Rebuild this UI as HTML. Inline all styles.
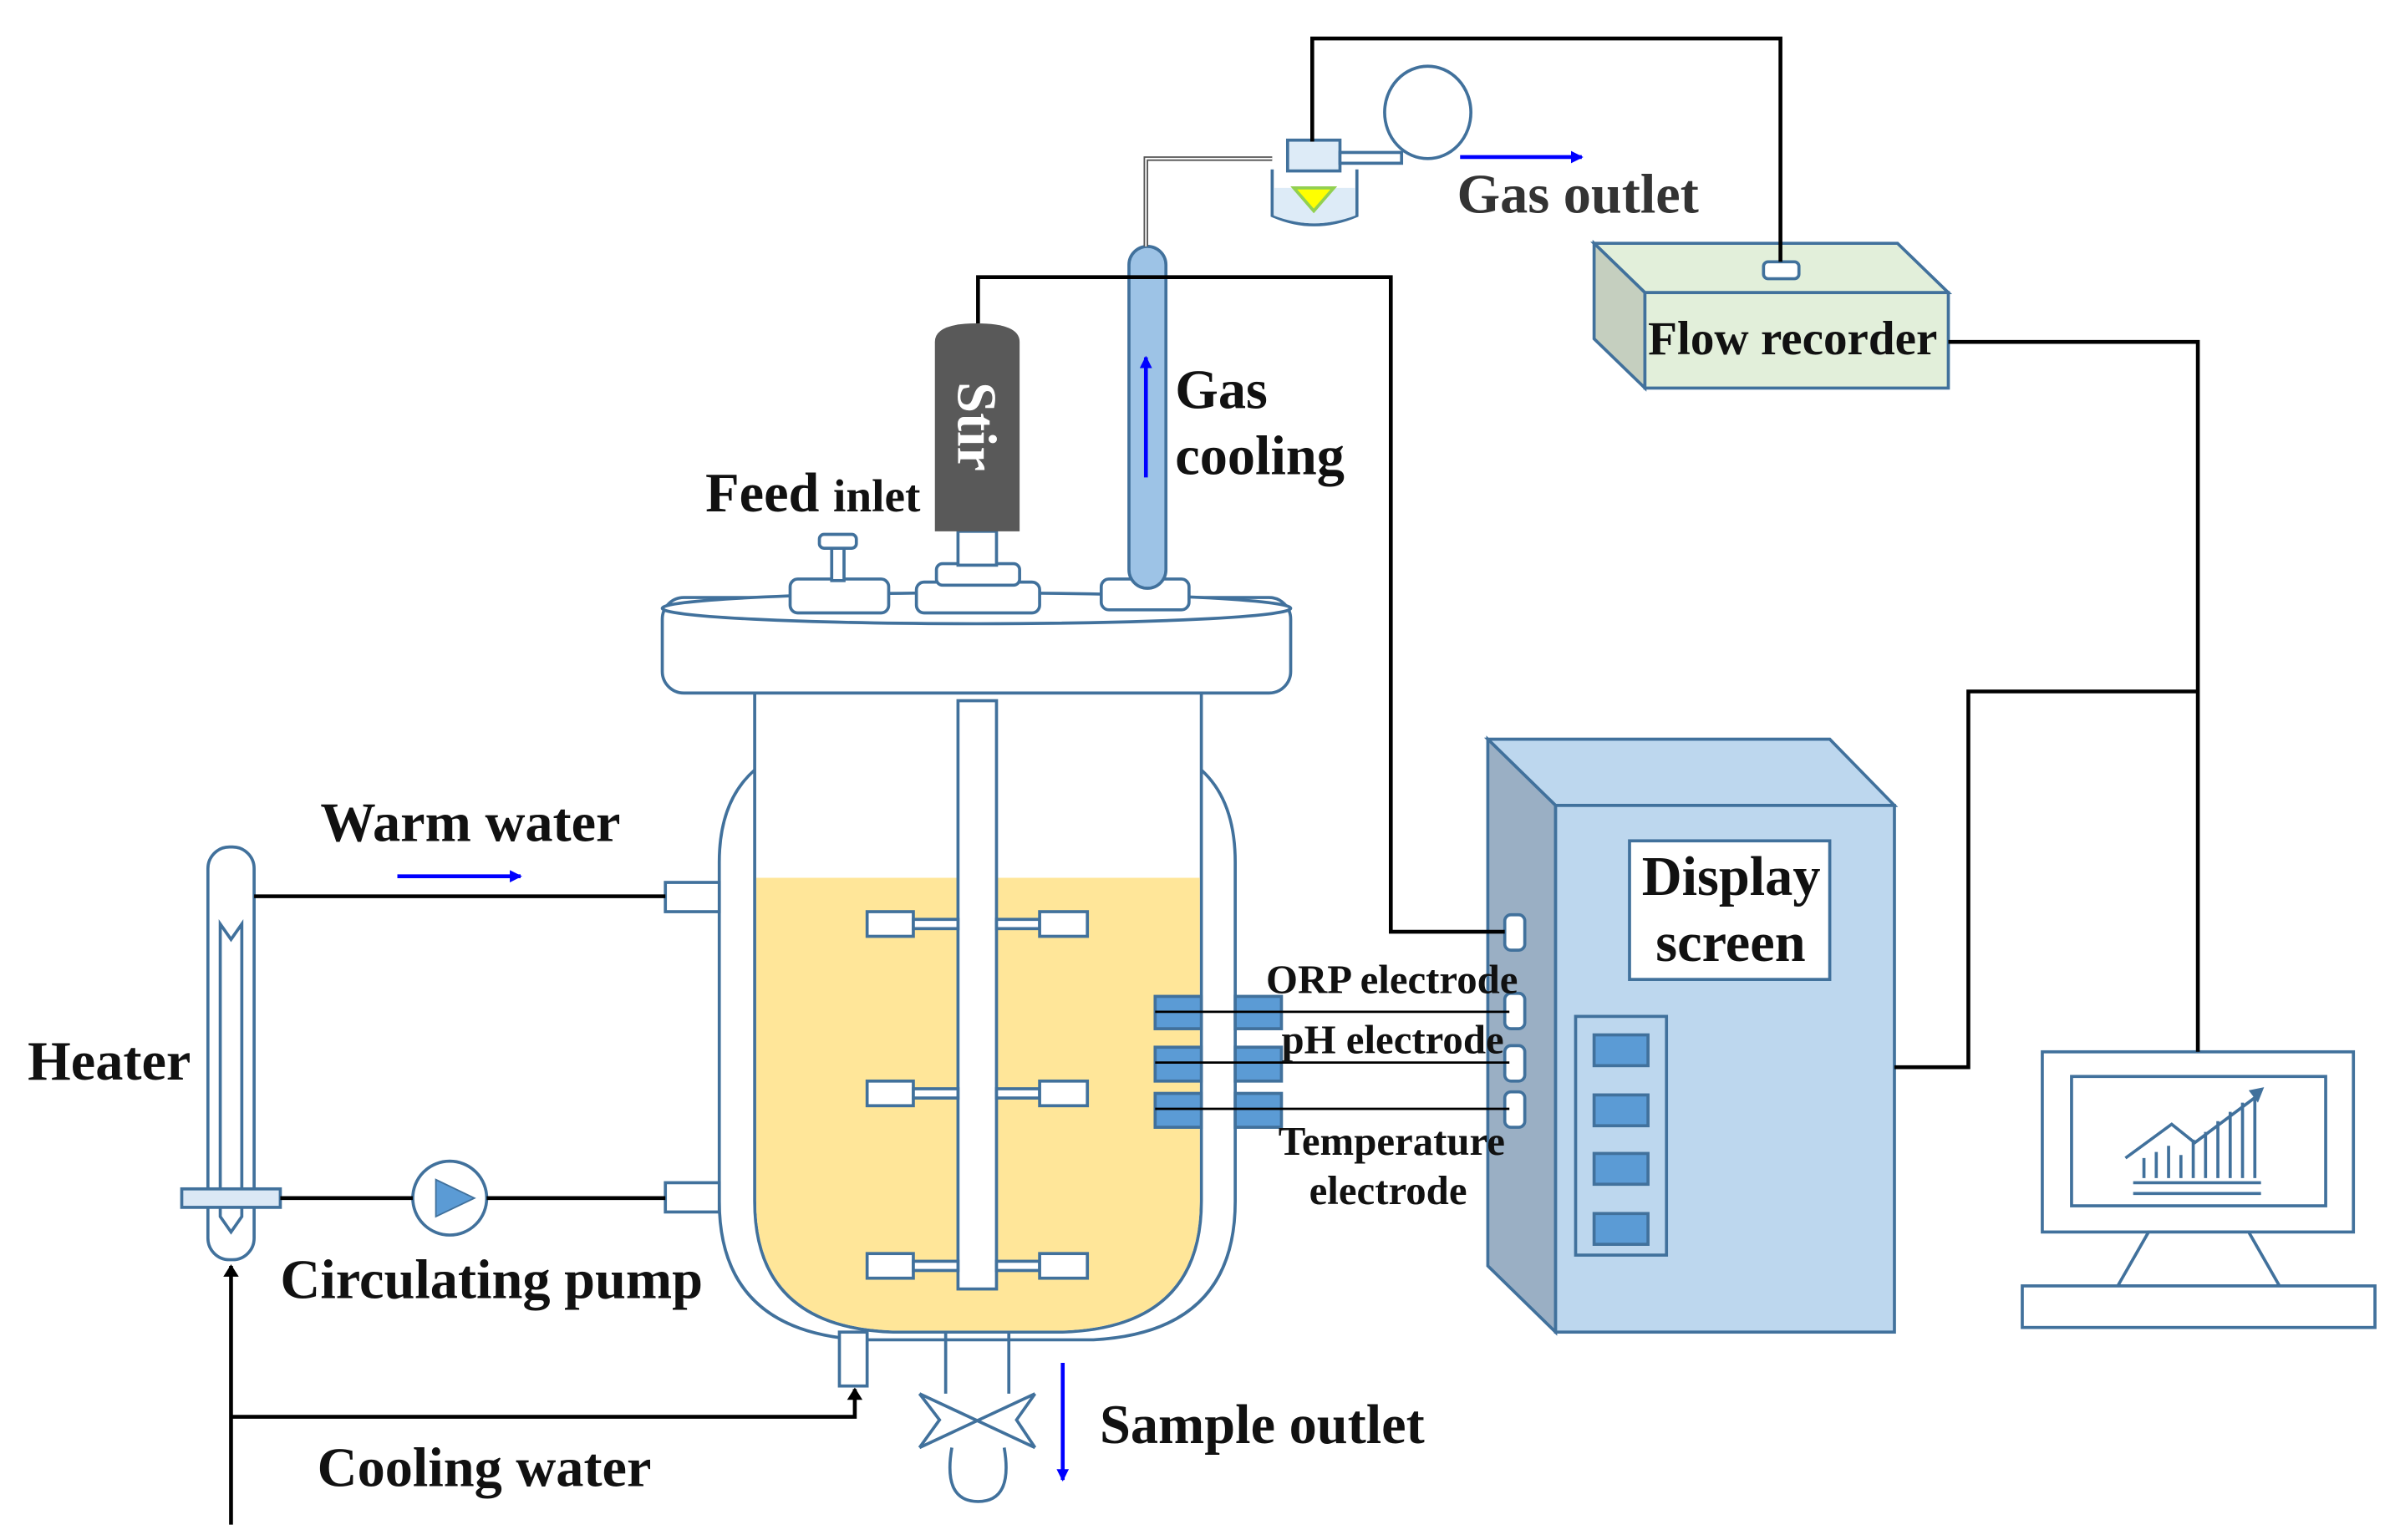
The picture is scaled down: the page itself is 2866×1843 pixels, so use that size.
<!DOCTYPE html>
<html><head><meta charset="utf-8"><style>html,body{margin:0;padding:0;background:#fff}svg{display:block}text{font-family:"Liberation Serif",serif;font-weight:bold;fill:#111}</style></head><body>
<svg width="2866" height="1843" viewBox="0 0 1555 1000" preserveAspectRatio="none" xmlns="http://www.w3.org/2000/svg">
<defs><marker id="ab" markerWidth="8" markerHeight="8" refX="7" refY="4" orient="auto" markerUnits="userSpaceOnUse"><path d="M0,0 L8,4 L0,8z" fill="#0000ff"/></marker>
<marker id="ak" markerWidth="8" markerHeight="10" refX="7" refY="5" orient="auto" markerUnits="userSpaceOnUse"><path d="M0,0 L8,5 L0,10z" fill="#000"/></marker></defs>
<g stroke="#41719c" stroke-width="2" fill="#fff">
<path d="M490,500 Q467,520 467,560 L467,780 Q467,865 560,870 L710,870 Q802,865 802,780 L802,560 Q802,520 780,500"/>
<path d="M490,450 L490,780 Q490,862 580,865 L690,865 Q780,862 780,780 L780,450"/>
<path d="M491,570 L779,570 L779,780 Q779,861 690,864 L580,864 Q491,861 491,780Z" fill="#ffe699" stroke="none"/>
<rect x="430" y="388" width="408" height="62" rx="14"/>
<ellipse cx="634" cy="395" rx="204" ry="10"/>
<rect x="622" y="455" width="25" height="382"/>
<g>
<rect x="563" y="592" width="30" height="16"/><rect x="593" y="597" width="29" height="6"/><rect x="647" y="597" width="28" height="6"/><rect x="675" y="592" width="31" height="16"/>
<rect x="563" y="702" width="30" height="16"/><rect x="593" y="707" width="29" height="6"/><rect x="647" y="707" width="28" height="6"/><rect x="675" y="702" width="31" height="16"/>
<rect x="563" y="814" width="30" height="16"/><rect x="593" y="819" width="29" height="6"/><rect x="647" y="819" width="28" height="6"/><rect x="675" y="814" width="31" height="16"/>
</g>
<rect x="432" y="573" width="35" height="19"/><rect x="432" y="768" width="35" height="19"/>
<rect x="545" y="865" width="18" height="35"/>
<path d="M614,866 L614,905 M655,866 L655,905"/>
<path d="M597,905 L672,940 M672,905 L597,940 M597,905 L610,922 L597,940 M672,905 L660,922 L672,940"/>
<path d="M618,940 Q612,975 635,975 Q658,975 652,940"/>
<g fill="#5b9bd5"><rect x="750" y="647" width="30" height="21"/><rect x="802" y="647" width="30" height="21"/><rect x="750" y="680" width="30" height="22"/><rect x="802" y="680" width="30" height="22"/><rect x="750" y="710" width="30" height="22"/><rect x="802" y="710" width="30" height="22"/></g>
<rect x="513" y="376" width="64" height="22" rx="5"/><rect x="540" y="355" width="8" height="22"/><rect x="532" y="347" width="24" height="9" rx="3"/>
<rect x="595" y="378" width="80" height="20" rx="5"/><rect x="608" y="366" width="54" height="14" rx="4"/><rect x="622" y="345" width="25" height="22"/>
<rect x="715" y="376" width="57" height="20" rx="5"/>
<rect x="733" y="160" width="24" height="222" rx="12" fill="#9dc3e6"/>
<rect x="135" y="550" width="30" height="268" rx="14"/>
<path d="M143,600 L150,610 L157,600 L157,790 L150,800 L143,790Z" fill="none"/>
<rect x="118" y="772" width="64" height="12" fill="#dbe8f5"/>
<circle cx="292" cy="778" r="24"/>
<path d="M826,110 L826,140 Q853,152 881,140 L881,110" fill="#fff"/>
<path d="M827,122 L880,122 L880,140 Q853,150 827,140Z" fill="#ddebf7" stroke="none"/>
<rect x="836" y="91" width="34" height="20" fill="#ddebf7"/>
<rect x="870" y="99" width="40" height="7"/>
<ellipse cx="927" cy="73" rx="28" ry="30"/>
<path d="M1035,158 L1232,158 L1265,190 L1068,190Z" fill="#e2efda"/>
<path d="M1035,158 L1068,190 L1068,252 L1035,220Z" fill="#c5cfbf"/>
<rect x="1068" y="190" width="197" height="62" fill="#e2efda"/>
<rect x="1145" y="170" width="23" height="11" rx="3"/>
<path d="M966,480 L1188,480 L1230,523 L1010,523Z" fill="#bdd7ee"/>
<path d="M966,480 L1010,523 L1010,865 L966,822Z" fill="#9aafc4"/>
<rect x="1010" y="523" width="220" height="342" fill="#bdd7ee"/>
<rect x="1058" y="546" width="130" height="90" fill="#fff"/>
<rect x="1023" y="660" width="59" height="155" fill="#bdd7ee"/>
<g fill="#5b9bd5"><rect x="1035" y="672" width="35" height="20"/><rect x="1035" y="711" width="35" height="20"/><rect x="1035" y="749" width="35" height="20"/><rect x="1035" y="788" width="35" height="20"/></g>
<g><rect x="977" y="594" width="13" height="23" rx="4"/><rect x="977" y="645" width="13" height="23" rx="4"/><rect x="977" y="679" width="13" height="23" rx="4"/><rect x="977" y="709" width="13" height="23" rx="4"/></g>
<rect x="1326" y="683" width="202" height="117"/>
<rect x="1345" y="699" width="165" height="84"/>
<path d="M1395,800 L1460,800 L1480,835 L1375,835Z"/>
<rect x="1313" y="835" width="229" height="27"/>
<path d="M1385,768 L1468,768 M1385,775 L1468,775 M1392,765 L1392,752 M1400,765 L1400,748 M1408,765 L1408,744 M1416,765 L1416,750 M1424,765 L1424,740 M1432,765 L1432,735 M1440,765 L1440,728 M1448,765 L1448,722 M1456,765 L1456,716 M1464,765 L1464,712 M1380,752 L1410,730 L1425,742 L1465,712" fill="none"/>
</g>
<path d="M1460,708 L1470,706 L1466,716Z" fill="#41719c"/>
<path d="M283,766 L308,778 L283,790Z" fill="#5b9bd5" stroke="#41719c"/>
<path d="M840,122 L866,122 L853,137Z" fill="#ffff00" stroke="#92d050" stroke-width="2"/>
<path d="M607,222 Q607,210 634,210 Q662,210 662,222 L662,345 L607,345Z" fill="#595959"/>
<text x="0" y="0" transform="translate(622,248) rotate(90)" style="fill:#fff;font-size:36px">Stir</text>
<g stroke="#000" stroke-width="2.5" fill="none">
<path d="M635,210 L635,180 L903,180 L903,605 L977,605"/>
<path d="M852,92 L852,25 L1156,25 L1156,170"/>
<path d="M1265,222 L1427,222 L1427,683"/>
<path d="M1427,449 L1278,449 L1278,693 L1230,693"/>
<path d="M165,582 L432,582"/><path d="M182,778 L268,778 M316,778 L432,778"/>
<path d="M150,990 L150,822" marker-end="url(#ak)"/>
<path d="M150,920 L555,920 L555,902" marker-end="url(#ak)"/>
</g>
<g stroke="#000" stroke-width="1.5"><path d="M750,657 L980,657 M750,690 L980,690 M750,720 L980,720"/></g>
<path d="M744,160 L744,103 L826,103" stroke="#555" stroke-width="3" fill="none"/><path d="M744,160 L744,103 L826,103" stroke="#fff" stroke-width="1" fill="none"/>
<g stroke="#0000ff" stroke-width="2.5">
<path d="M258,569 L338,569" marker-end="url(#ab)"/>
<path d="M948,102 L1027,102" marker-end="url(#ab)"/>
<path d="M744,310 L744,232" marker-end="url(#ab)"/>
<path d="M690,885 L690,961" marker-end="url(#ab)"/>
</g>
<text x="946" y="138" style="font-size:36px;fill:#333">Gas outlet</text>
<text x="1070" y="230" style="font-size:31px">Flow recorder</text>
<text x="763" y="265" style="font-size:36px">Gas</text>
<text x="763" y="308" style="font-size:36px">cooling</text>
<text x="458" y="332" style="font-size:36px">Feed <tspan style="font-size:30px">inlet</tspan></text>
<text x="208" y="546" style="font-size:36px">Warm water</text>
<text x="18" y="701" style="font-size:36px">Heater</text>
<text x="182" y="843" style="font-size:36px">Circulating pump</text>
<text x="206" y="965" style="font-size:36px">Cooling water</text>
<text x="714" y="937" style="font-size:36px">Sample outlet</text>
<text x="1066" y="581" style="font-size:36px">Display</text>
<text x="1075" y="624" style="font-size:36px">screen</text>
<text x="822" y="645" style="font-size:26.5px">ORP electrode</text>
<text x="832" y="684" style="font-size:26.5px">pH electrode</text>
<text x="830" y="750" style="font-size:26.5px">Temperature</text>
<text x="850" y="782" style="font-size:26.5px">electrode</text>
</svg>
</body></html>
